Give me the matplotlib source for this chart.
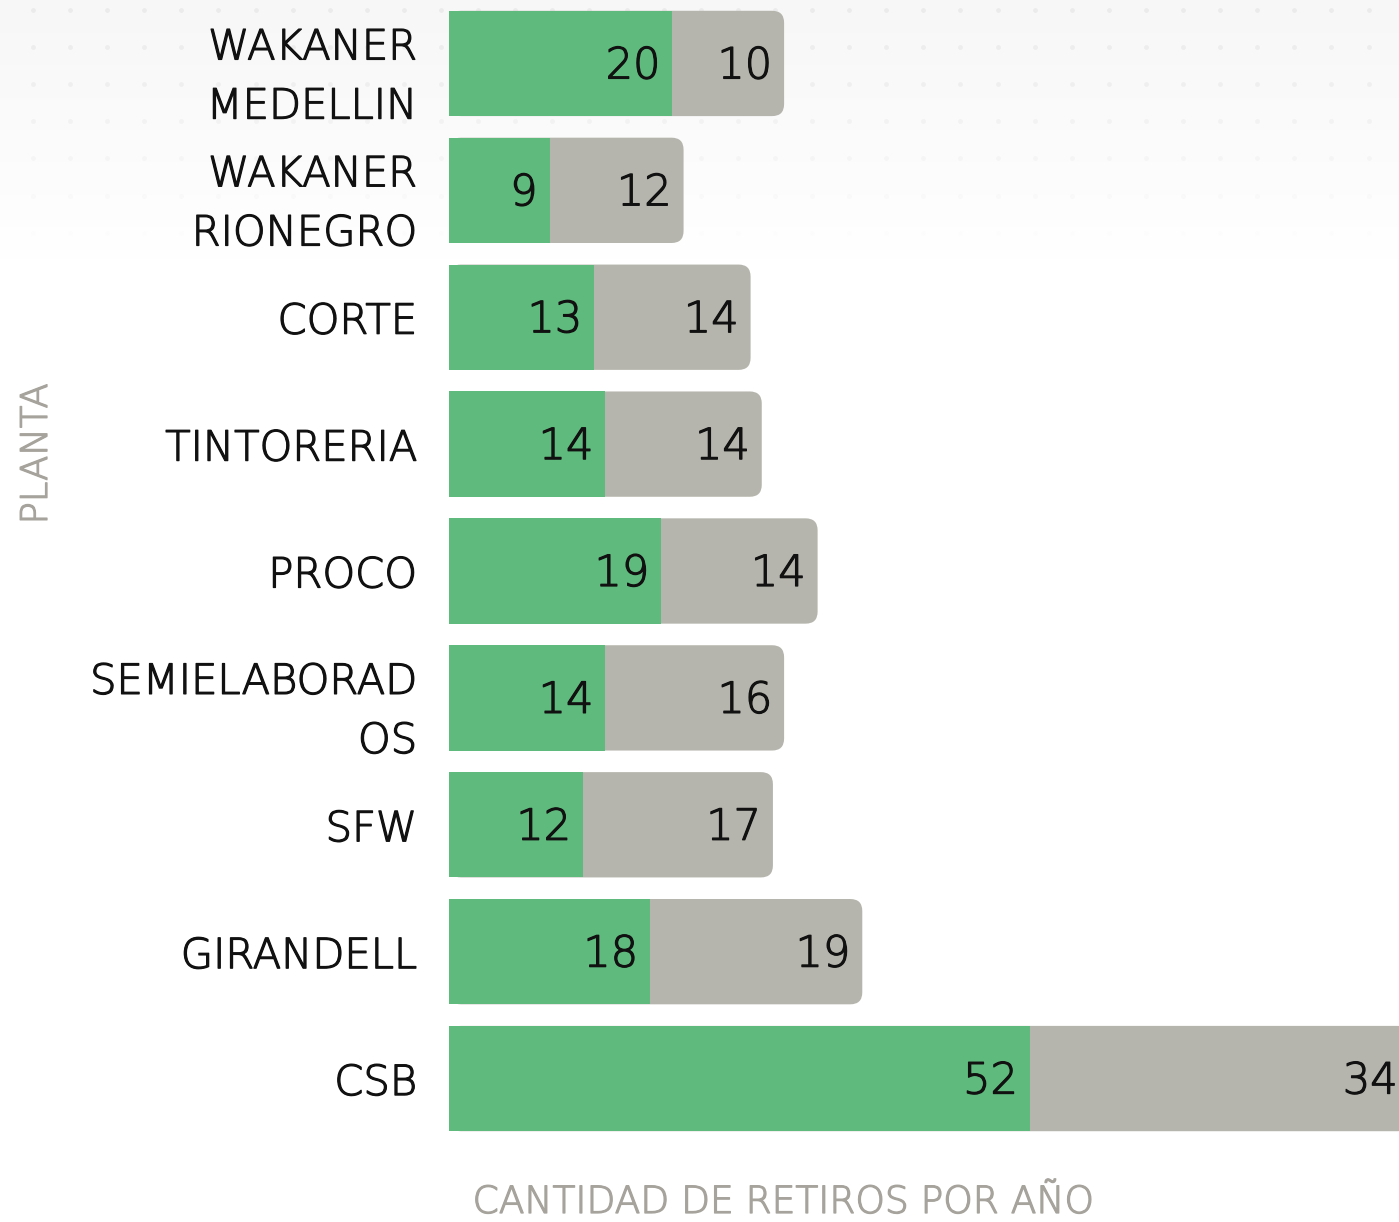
import matplotlib
matplotlib.use("Agg")
import matplotlib.pyplot as plt
import matplotlib.patheffects as pe
import numpy as np
from matplotlib.patches import FancyBboxPatch
from matplotlib.colors import LinearSegmentedColormap

# ---- data ----
plantas = ["WAKANER\nMEDELLIN", "WAKANER\nRIONEGRO", "CORTE", "TINTORERIA", "PROCO",
           "SEMIELABORAD\nOS", "SFW", "GIRANDELL", "CSB"]
serie_verde = [20, 9, 13, 14, 19, 14, 12, 18, 52]
serie_gris = [10, 12, 14, 14, 14, 16, 17, 19, 34]
x_label = "CANTIDAD DE RETIROS POR AÑO"
y_label = "PLANTA"

# ---- style ----
GREEN = "#5fba7d"
GRAY = "#b6b5ad"
LABEL_GRAY = "#a6a39c"
TXT = "#111111"
WEIGHT = 200
plt.rcParams["font.family"] = ["DejaVu Sans"]


def thick(color, lw=0.9):
    return [pe.Stroke(linewidth=lw, foreground=color), pe.Normal()]


W, H = 1399, 1222
fig = plt.figure(figsize=(W / 100, H / 100), dpi=100)
fig.patch.set_facecolor("white")

# ---- decorative background (gradient + dot grid at the top) ----
bg = fig.add_axes([0, 0, 1, 1], zorder=0)
bg.axis("off")
cmap = LinearSegmentedColormap.from_list("bgfade", ["#f7f7f7", "#ffffff"])
grad = np.linspace(0, 1, 256)[:, None]
bg.imshow(grad, cmap=cmap, extent=(0, W, 260, 0), aspect="auto", interpolation="bilinear")
dx = np.arange(33, W, 37.1)
dy = np.arange(10, 250, 37.1)
for yy in dy:
    a = max(0.0, 1 - yy / 250)
    bg.scatter(dx, np.full_like(dx, yy), s=12, color="#ebebeb", alpha=a, linewidths=0)
bg.set_xlim(0, W)
bg.set_ylim(H, 0)

# ---- main axes ----
ax = fig.add_axes([449 / W, (H - 1142) / H, (W - 449) / W, 1142 / H], zorder=1)
ax.set_facecolor("none")
n = len(plantas)
y = np.arange(n)
h = 0.83
px_per_unit = 11.17
xmax = 950 / px_per_unit
ax.set_xlim(0, xmax)
ax.set_ylim(n - 0.5, -0.5)

rx = 12 / px_per_unit
ry = 12 / (1142 / n)
totals = [g + r for g, r in zip(serie_verde, serie_gris)]
for yi, tot in zip(y, totals):
    p = FancyBboxPatch((0, yi - h / 2), tot, h,
                       boxstyle=f"round,pad=0,rounding_size={rx}",
                       mutation_aspect=ry / rx, facecolor=GRAY, edgecolor="none", zorder=2)
    ax.add_patch(p)
ax.barh(y, serie_verde, height=h, color=GREEN, zorder=3)

for yi, g, tot in zip(y, serie_verde, totals):
    ax.annotate(str(g), xy=(g, yi), xytext=(-12, -15), textcoords="offset pixels",
                ha="right", va="baseline", fontsize=31, color=TXT, fontweight=WEIGHT, zorder=5,
                path_effects=thick(TXT))
    ax.annotate(str(tot - g), xy=(tot, yi), xytext=(-12, -15), textcoords="offset pixels",
                ha="right", va="baseline", fontsize=31, color=TXT, fontweight=WEIGHT, zorder=5,
                annotation_clip=False, path_effects=thick(TXT))

ax.set_yticks(y, plantas)
ax.tick_params(axis="y", length=0, pad=23, labelsize=30, labelcolor=TXT)
for t in ax.get_yticklabels():
    t.set_linespacing(1.55)
    t.set_fontweight(WEIGHT)
    t.set_path_effects(thick(TXT))
ax.set_xticks([])
for s in ax.spines.values():
    s.set_visible(False)

ax.set_xlabel(x_label, fontsize=27, color=LABEL_GRAY, fontweight=WEIGHT,
              path_effects=thick(LABEL_GRAY))
ax.xaxis.set_label_coords((783 - 449) / 950, (1142 - 1213) / 1142)
ax.xaxis.label.set_va("baseline")
ax.set_ylabel(y_label, fontsize=26.5, color=LABEL_GRAY, fontweight=WEIGHT,
              path_effects=thick(LABEL_GRAY))
ax.yaxis.set_label_coords((36 - 449) / 950, (1142 - 454) / 1142)
ax.yaxis.label.set_va("center")
ax.yaxis.label.set_ha("center")

fig.savefig("out.png", dpi=100, facecolor="white")
